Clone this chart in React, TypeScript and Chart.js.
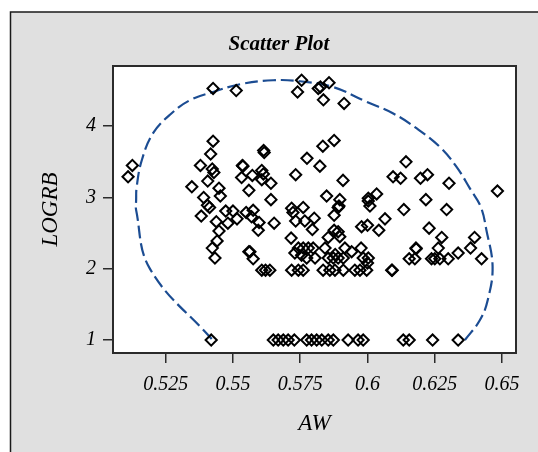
import React, { useEffect, useRef } from "react";
import { Chart, registerables } from "chart.js";

Chart.register(...registerables);

// ---- Data ----
const awValues: number[] = [
  // upper band
  0.5426, 0.5512, 0.5755, 0.574, 0.5817, 0.5825, 0.5857, 0.5836, 0.5913,
  // left group
  0.5126, 0.511, 0.5426, 0.5417, 0.5379, 0.5423, 0.5429, 0.5535, 0.5537, 0.5532,
  0.5406, 0.5347, 0.5448, 0.5453, 0.5391, 0.5405, 0.5559, 0.5382, 0.5413, 0.5438,
  0.5448, 0.5441, 0.5423, 0.5433, 0.5473, 0.55, 0.5481, 0.5515, 0.5549, 0.5559,
  0.5419,
  // middle upper
  0.5876, 0.5834, 0.5614, 0.5616, 0.5775, 0.5823, 0.5607, 0.5613, 0.5572, 0.5733,
  0.5641, 0.5607, 0.5909, 0.5641, 0.5848, 0.5897, 0.6034, 0.6003, 0.6003, 0.6009,
  0.5718, 0.5761, 0.5575, 0.5891,
  // right group
  0.6143, 0.6095, 0.6123, 0.6197, 0.6223, 0.6303, 0.6217, 0.6483, 0.6135, 0.6294,
  0.6065, 0.6229, 0.6276, 0.6398, 0.618, 0.6181, 0.6263, 0.6383, 0.6337, 0.6155,
  0.6176, 0.6238, 0.625, 0.6269, 0.63, 0.6424, 0.609, 0.6092, 0.6042,
  0.6133, 0.6155, 0.6242, 0.6337,
  // dense middle
  0.5569, 0.5597, 0.5594, 0.5653, 0.5723, 0.5733, 0.5767, 0.5802, 0.5795, 0.5716,
  0.5876, 0.5894, 0.5876, 0.5891, 0.5897, 0.5854, 0.5978, 0.6, 0.5563, 0.5575,
  0.5743, 0.5761, 0.578, 0.5798, 0.573, 0.5755, 0.5774, 0.5805,
  0.5842, 0.5916, 0.5941, 0.5976, 0.5854, 0.5873, 0.5891, 0.591, 0.588,
  0.5984, 0.6003, 0.6,
  // row near 2
  0.5607, 0.5621, 0.5637, 0.5718, 0.5743, 0.5761, 0.5835, 0.586, 0.5879, 0.591,
  0.5953, 0.5972, 0.5997,
  // row at 1
  0.565, 0.5668, 0.5687, 0.5705, 0.5728, 0.5774, 0.5792, 0.5811, 0.583, 0.5854,
  0.5873, 0.5928, 0.5965, 0.5984,
];

const logrbValues: number[] = [
  4.53, 4.5, 4.645, 4.48, 4.53, 4.55, 4.61, 4.37, 4.32,
  3.45, 3.29, 3.79, 3.61, 3.45, 3.4, 3.35, 3.45, 3.44, 3.28,
  3.23, 3.15, 3.13, 3.02, 3.0, 2.89, 3.1, 2.74, 2.86, 2.66,
  2.53, 2.39, 2.29, 2.15, 2.81, 2.81, 2.64, 2.7, 2.79, 2.24,
  1.0,
  3.8, 3.72, 3.66, 3.63, 3.55, 3.44, 3.38, 3.33, 3.31, 3.32,
  3.2, 3.25, 3.24, 2.97, 3.02, 2.97, 3.05, 2.99, 2.95, 2.88,
  2.85, 2.86, 2.82, 2.86,
  3.5, 3.29, 3.27, 3.27, 3.32, 3.2, 2.97, 3.09, 2.83, 2.83,
  2.7, 2.57, 2.44, 2.44, 2.29, 2.28, 2.29, 2.29, 2.22, 2.14,
  2.14, 2.14, 2.14, 2.14, 2.14, 2.14, 1.98, 1.98, 2.54,
  1.0, 1.0, 1.0, 1.0,
  2.73, 2.65, 2.54, 2.64, 2.79, 2.67, 2.67, 2.71, 2.55, 2.43,
  2.75, 2.88, 2.54, 2.52, 2.45, 2.44, 2.59, 2.61, 2.24, 2.14,
  2.29, 2.29, 2.29, 2.29, 2.22, 2.19, 2.15, 2.15,
  2.29, 2.29, 2.24, 2.29, 2.15, 2.15, 2.15, 2.15, 2.2,
  2.15, 2.15, 2.08,
  1.98, 1.98, 1.98, 1.98, 1.98, 1.98, 1.98, 1.98, 1.98, 1.98,
  1.98, 1.98, 1.98,
  1.0, 1.0, 1.0, 1.0, 1.0, 1.0, 1.0, 1.0, 1.0, 1.0,
  1.0, 1.0, 1.0, 1.0,
];

// dashed ellipse outline
const ellipseAw: number[] = [
  0.5421, 0.5192, 0.514, 0.514, 0.5142, 0.5161, 0.5203, 0.5272, 0.534, 0.5426,
  0.5526, 0.5649, 0.5749, 0.5871, 0.5997, 0.6094, 0.6182, 0.6269, 0.6331, 0.638,
  0.6421, 0.6442, 0.6465, 0.6447, 0.6418, 0.6362,
];
const ellipseLogrb: number[] = [
  1.014, 1.995, 2.823, 2.963, 3.149, 3.523, 3.902, 4.182, 4.365, 4.481,
  4.589, 4.645, 4.631, 4.551, 4.341, 4.182, 3.972, 3.71, 3.43, 3.131,
  2.869, 2.542, 2.028, 1.561, 1.28, 1.0,
];

const xTickValues: number[] = [0.525, 0.55, 0.575, 0.6, 0.625, 0.65];
const xTickLabels: string[] = ["0.525", "0.55", "0.575", "0.6", "0.625", "0.65"];
const yTickValues: number[] = [1, 2, 3, 4];
const yTickLabels: string[] = ["1", "2", "3", "4"];
const xRange: number[] = [0.5054, 0.6552];
const yRange: number[] = [0.818, 4.845];

const chartTitle = "Scatter Plot";
const xTitle = "AW";
const yTitle = "LOGRB";

const SERIF = "'Liberation Serif', 'Times New Roman', serif";

const panelPlugin = {
  id: "panelPlugin",
  beforeDraw(chart: any) {
    const ctx = chart.ctx as CanvasRenderingContext2D;
    const { left, top, right, bottom } = chart.chartArea;
    ctx.save();
    ctx.fillStyle = "#ffffff";
    ctx.fillRect(0, 0, chart.width, chart.height);
    ctx.fillStyle = "#e0e0e0";
    ctx.fillRect(10, 12, chart.width, chart.height);
    ctx.strokeStyle = "#1a1a1a";
    ctx.lineWidth = 1.5;
    ctx.strokeRect(10.5, 12, chart.width + 20, chart.height + 20);
    ctx.fillStyle = "#ffffff";
    ctx.fillRect(left, top, right - left, bottom - top);
    ctx.fillStyle = "#000000";
    ctx.font = `italic bold 21px ${SERIF}`;
    ctx.textAlign = "center";
    ctx.textBaseline = "middle";
    ctx.fillText(chartTitle, 279, 45);
    ctx.restore();
  },
  afterDraw(chart: any) {
    const ctx = chart.ctx as CanvasRenderingContext2D;
    const { left, top, right, bottom } = chart.chartArea;
    ctx.save();
    ctx.strokeStyle = "#2b2b2b";
    ctx.lineWidth = 2;
    ctx.strokeRect(left, top, right - left, bottom - top);
    ctx.restore();
  },
};

export default function App() {
  const canvasRef = useRef<HTMLCanvasElement | null>(null);

  useEffect(() => {
    if (!canvasRef.current) return;
    const points = awValues.map((x, i) => ({ x, y: logrbValues[i] }));
    const ellipse = ellipseAw.map((x, i) => ({ x, y: ellipseLogrb[i] }));

    const chart = new Chart(canvasRef.current, {
      type: "scatter",
      data: {
        datasets: [
          {
            label: "ellipse",
            data: ellipse,
            showLine: true,
            borderColor: "#1b4c92",
            borderWidth: 2.2,
            borderDash: [13, 5],
            pointRadius: 0,
            tension: 0.4,
            fill: false,
            order: 2,
          } as any,
          {
            label: "LOGRB",
            data: points,
            pointStyle: "rectRot",
            pointRadius: 5.6,
            borderColor: "#000000",
            backgroundColor: "rgba(0,0,0,0)",
            pointBorderWidth: 2,
            order: 1,
          } as any,
        ],
      },
      options: {
        responsive: false,
        animation: false,
        devicePixelRatio: 1,
        events: [],
        layout: { padding: { top: 66, right: 22, bottom: 0, left: 0 } },
        plugins: {
          legend: { display: false },
          tooltip: { enabled: false },
          title: { display: false },
        },
        scales: {
          x: {
            type: "linear",
            min: xRange[0],
            max: xRange[1],
            afterBuildTicks: (scale: any) => {
              scale.ticks = xTickValues.map((v) => ({ value: v }));
            },
            afterFit: (scale: any) => {
              scale.height = 99;
            },
            ticks: {
              callback: (_v: any, i: number) => xTickLabels[i],
              color: "#000",
              padding: 10,
              maxRotation: 0,
              font: { family: SERIF, size: 20, style: "italic" },
            },
            grid: {
              drawOnChartArea: false,
              drawTicks: true,
              tickLength: 10,
              color: "#2b2b2b",
              lineWidth: 1.5,
            },
            border: { display: true, color: "#2b2b2b", width: 2 },
            title: {
              display: true,
              text: xTitle,
              color: "#000",
              font: { family: SERIF, size: 23, style: "italic" },
              padding: { top: 0, bottom: 14 },
            },
          },
          y: {
            type: "linear",
            min: yRange[0],
            max: yRange[1],
            afterBuildTicks: (scale: any) => {
              scale.ticks = yTickValues.map((v) => ({ value: v }));
            },
            afterFit: (scale: any) => {
              scale.width = 113;
            },
            ticks: {
              callback: (_v: any, i: number) => yTickLabels[i],
              color: "#000",
              padding: 7,
              font: { family: SERIF, size: 20, style: "italic" },
            },
            grid: {
              drawOnChartArea: false,
              drawTicks: true,
              tickLength: 10,
              color: "#2b2b2b",
              lineWidth: 1.5,
            },
            border: { display: true, color: "#2b2b2b", width: 2 },
            title: {
              display: true,
              text: yTitle,
              color: "#000",
              font: { family: SERIF, size: 23, style: "italic" },
              padding: { top: 37, bottom: 0 },
            },
          },
        },
      },
      plugins: [panelPlugin],
    });

    return () => chart.destroy();
  }, []);

  return (
    <div style={{ position: "fixed", left: 0, top: 0, width: 538, height: 452 }}>
      <canvas ref={canvasRef} width={538} height={452} style={{ display: "block" }} />
    </div>
  );
}
